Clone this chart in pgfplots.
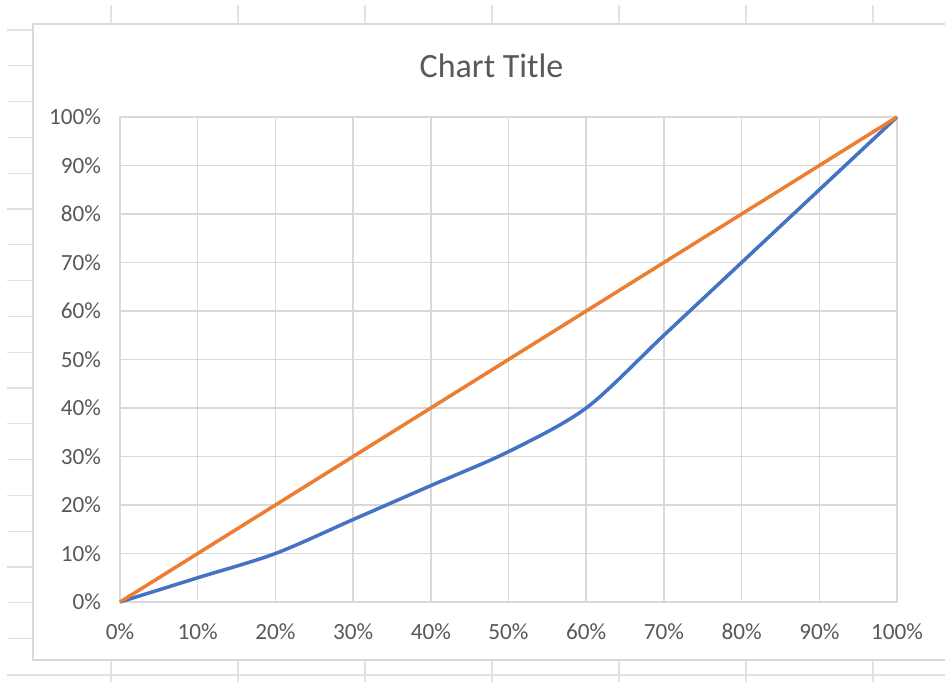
\documentclass[border=0pt]{standalone}
\usepackage{pgfplots}
\pgfplotsset{compat=1.18}
\usepackage{fontspec}
\setmainfont{Carlito}
\definecolor{txt}{HTML}{595959}
\definecolor{grd}{HTML}{D9D9D9}
\definecolor{sheet}{HTML}{E2E2E2}
\definecolor{xlblue}{HTML}{4472C4}
\definecolor{xlorange}{HTML}{ED7D31}
\begin{document}
\begin{tikzpicture}
\path[use as bounding box] (0,0) rectangle (472.5pt,341pt);
\begin{scope}[x=0.5pt,y=-0.5pt,shift={(0,341pt)}]
  % spreadsheet row lines on the left
  \foreach \r in {30,65.8,101.6,137.4,173.2,209,244.8,280.6,316.4,352.2,388,423.8,459.6,495.4,531.2,567,602.8,638.6}
    \draw[sheet,line width=0.6pt] (7,\r) -- (33,\r);
  \draw[sheet,line width=0.6pt] (7,675) -- (945,675);
  % spreadsheet column lines top and bottom
  \foreach \c in {111,238,365,492,619,746,873}{
    \draw[sheet,line width=0.6pt] (\c,5) -- (\c,24);
    \draw[sheet,line width=0.6pt] (\c,660) -- (\c,682);
  }
  % chart area
  \draw[grd,line width=0.9pt,fill=white] (33,24) rectangle (960,660);
  \node[txt,font=\fontsize{17}{20}\selectfont] at (491.5,66) {Chart Title};
\end{scope}
\begin{axis}[
  at={(60pt,40pt)}, anchor=south west,
  scale only axis, width=388.5pt, height=242.5pt,
  xmin=0, xmax=100, ymin=0, ymax=100,
  xtick={0,10,...,100}, ytick={0,10,...,100},
  xticklabel={\pgfmathprintnumber{\tick}\%},
  yticklabel={\pgfmathprintnumber{\tick}\%},
  /pgf/number format/assume math mode=true,
  tick label style={txt,font=\fontsize{11.6}{14}\selectfont},
  xticklabel style={yshift=-7.5pt},
  yticklabel style={xshift=-6pt},
  major tick length=0pt,
  grid=major,
  major grid style={grd,line width=0.75pt},
  axis line style={grd,line width=0.75pt},
  clip=false,
]
\addplot[xlblue,line width=1.75pt,smooth,tension=0.5] coordinates {
 (0,0) (10,5) (20,10) (30,17) (40,24) (50,31) (60,40) (70,55) (80,70) (90,85) (100,100)};
\addplot[xlorange,line width=1.75pt] coordinates {
 (0,0) (10,10) (20,20) (30,30) (40,40) (50,50) (60,60) (70,70) (80,80) (90,90) (100,100)};
\end{axis}
\end{tikzpicture}
\end{document}
